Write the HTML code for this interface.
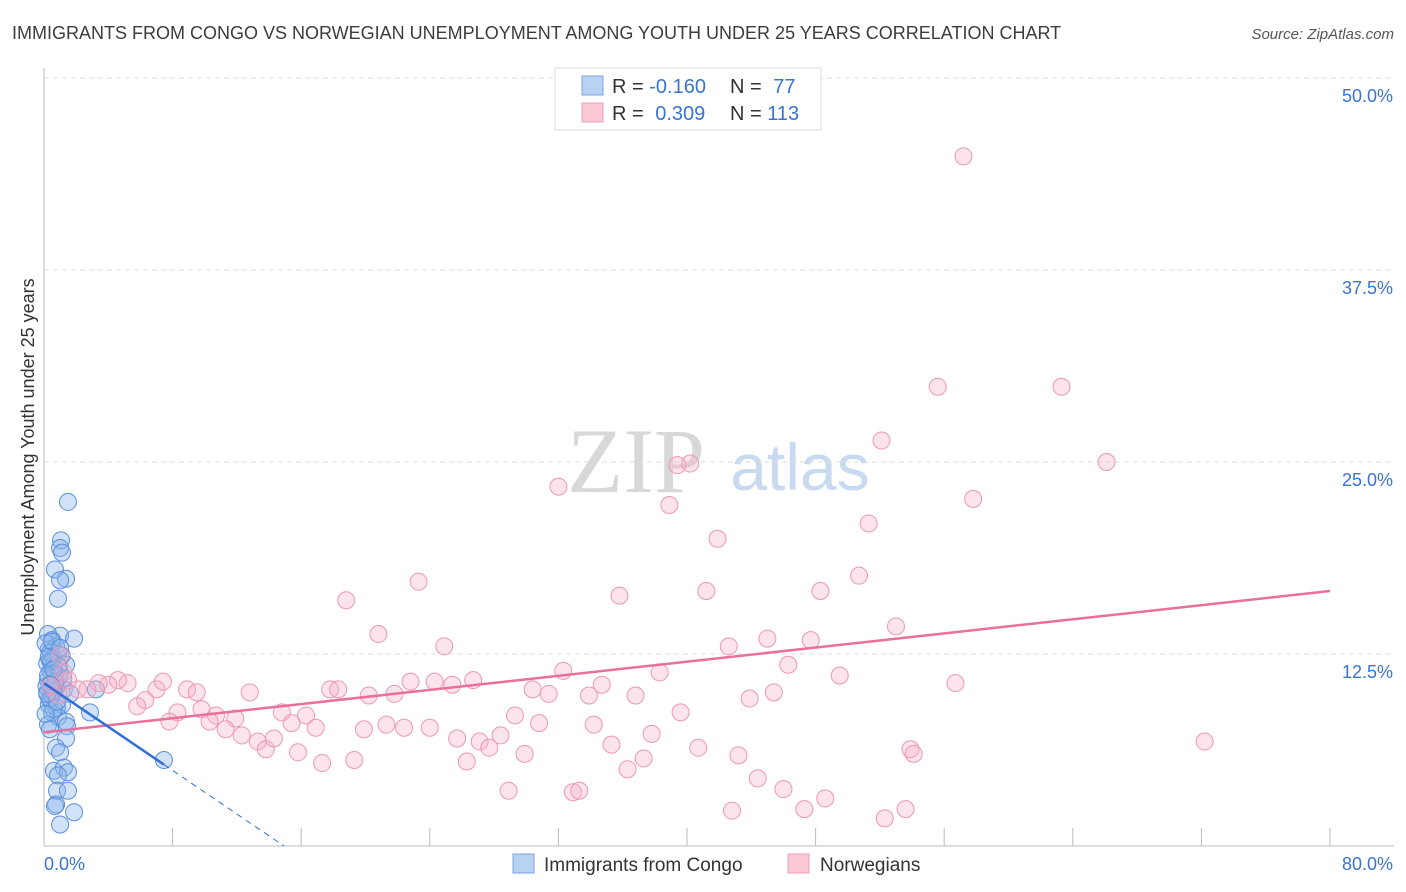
<!DOCTYPE html>
<html><head><meta charset="utf-8">
<style>
body{margin:0;background:#fff;font-family:"Liberation Sans",sans-serif;}
svg{display:block}
</style></head>
<body>
<svg id="chart" width="1406" height="892" xmlns="http://www.w3.org/2000/svg">
<text x="12" y="39" font-size="18" fill="#3c3c3c">IMMIGRANTS FROM CONGO VS NORWEGIAN UNEMPLOYMENT AMONG YOUTH UNDER 25 YEARS CORRELATION CHART</text>
<text x="1394" y="39" font-size="15" fill="#555" text-anchor="end" font-style="italic">Source: ZipAtlas.com</text>
<text x="636" y="492" font-size="92" fill="#d8d8d8" text-anchor="middle" font-family="Liberation Serif,serif">ZIP</text>
<text x="800" y="490" font-size="66" fill="#c8daf0" text-anchor="middle">atlas</text>
<g id="grid"></g>
<g id="axes"></g>
<g id="blue"></g>
<g id="pink"></g>
<g id="lines"></g>
<text transform="translate(34,457) rotate(-90)" font-size="18" fill="#333" text-anchor="middle">Unemployment Among Youth under 25 years</text>
<g>
<rect x="555" y="68" width="266" height="62" fill="#fff" stroke="#ddd"/>
<rect x="582" y="76" width="21" height="19" fill="#b8d2f4" stroke="#7aa6e0"/>
<rect x="582" y="103" width="21" height="19" fill="#fbc8d6" stroke="#eea0b8"/>
<text x="612" y="93" font-size="20" fill="#333">R = <tspan fill="#3a74cf">-0.160</tspan></text>
<text x="730" y="93" font-size="20" fill="#333">N = <tspan fill="#3a74cf" dx="6">77</tspan></text>
<text x="612" y="120" font-size="20" fill="#333">R = <tspan fill="#3a74cf" dx="6">0.309</tspan></text>
<text x="730" y="120" font-size="20" fill="#333">N = <tspan fill="#3a74cf">113</tspan></text>
</g>
<g>
<rect x="513" y="854" width="21" height="19" fill="#b8d2f4" stroke="#7aa6e0"/>
<text x="544" y="871" font-size="19" fill="#333">Immigrants from Congo</text>
<rect x="788" y="854" width="21" height="19" fill="#fbc8d6" stroke="#eea0b8"/>
<text x="820" y="871" font-size="19" fill="#333">Norwegians</text>
</g>
</svg>
<script>
const xTicks=[0,8,16,24,32,40,48,56,64,72,80];
const yTicks=[12.5,25,37.5,50];
const yTickLabels=["12.5%","25.0%","37.5%","50.0%"];
const xEdgeLabels=["0.0%","80.0%"];
const blueX=[1.49,1.06,1.0,1.12,0.68,1.37,1.0,0.87,1.0,1.87,0.25,0.5,0.75,0.87,1.37,0.37,0.56,1.0,0.25,0.75,1.24,1.62,3.23,0.37,1.12,2.86,0.5,0.87,1.37,0.25,0.37,1.43,1.37,0.75,1.0,0.62,1.24,1.49,0.87,0.81,1.49,0.75,0.68,1.87,1.0,7.46,0.3,0.6,0.9,0.2,0.5,0.8,0.4,0.7,1.1,0.3,0.6,0.2,0.1,0.4,0.9,0.15,0.55,0.35,0.65,1.2,0.45,0.25,0.8,0.1,0.5,0.3,0.7,0.2,0.6,1.0,0.4];
const blueY=[22.4,19.9,19.4,19.1,18.0,17.4,17.3,16.1,13.7,13.5,13.8,13.4,13.0,12.5,11.8,12.1,11.6,11.3,10.8,10.3,10.2,9.9,10.2,9.5,9.2,8.7,8.7,8.4,8.1,7.9,7.6,7.8,7.0,6.4,6.1,4.9,5.1,4.8,4.6,3.6,3.6,2.7,2.6,2.2,1.4,5.6,12.8,12.2,11.0,10.0,9.8,9.0,11.4,10.6,12.4,9.2,8.9,11.9,13.2,12.6,11.7,10.4,10.1,9.6,11.2,10.9,12.0,11.1,9.4,8.6,13.3,12.3,10.7,9.9,11.5,12.9,10.5];
const pinkX=[57.2,55.6,63.3,52.1,66.1,39.4,40.2,32.0,38.9,57.8,51.3,41.9,50.7,23.3,41.2,35.8,48.3,18.8,53.0,20.8,45.0,47.7,42.6,24.9,32.3,46.3,38.3,49.5,56.7,26.7,34.7,24.3,22.8,25.4,30.4,31.4,33.9,36.8,45.4,43.9,17.8,18.3,20.2,21.8,12.8,8.9,9.5,7.0,7.4,5.2,4.6,4.0,3.4,2.7,2.1,1.5,6.3,5.8,8.3,9.8,10.7,11.9,14.8,16.3,15.4,16.9,10.3,7.8,11.3,12.3,13.3,13.8,14.3,15.8,17.3,19.3,19.9,21.3,22.4,24.0,25.7,26.3,27.1,27.7,28.4,29.3,29.9,30.8,28.9,32.9,33.3,34.2,35.3,36.3,37.3,37.8,39.6,40.7,43.2,44.4,46.0,47.3,48.6,52.3,53.6,53.9,54.1,42.8,72.2,1.0,1.2,0.9,0.4];
const pinkY=[44.9,29.9,29.9,26.4,25.0,24.8,24.9,23.4,22.2,22.6,21.0,20.0,17.6,17.2,16.6,16.3,16.6,16.0,14.3,13.8,13.5,13.4,13.0,13.0,11.4,11.8,11.3,11.1,10.6,10.8,10.5,10.7,10.7,10.5,10.2,9.9,9.8,9.8,10.0,9.6,10.2,10.2,9.8,9.9,10.0,10.2,10.0,10.2,10.7,10.6,10.8,10.5,10.6,10.2,10.2,10.8,9.5,9.1,8.7,8.9,8.5,8.3,8.7,8.5,8.0,7.7,8.1,8.1,7.6,7.2,6.8,6.3,7.0,6.1,5.4,5.6,7.6,7.9,7.7,7.7,7.0,5.5,6.8,6.4,7.2,8.5,6.0,8.0,3.6,3.5,3.6,7.9,6.6,5.0,5.7,7.3,8.7,6.4,5.9,4.4,3.7,2.4,3.1,1.8,2.4,6.3,6.0,2.3,6.8,12.4,11.3,9.8,10.4];
const blueTrend=[10.6,-0.71];
const pinkTrend=[7.4,0.115];
const blueTrendEnd=7.46;

const NS="http://www.w3.org/2000/svg";
const X=v=>44+v*(1286/80);
const Y=v=>846-v*15.36;
function mk(tag,attrs,parent){const e=document.createElementNS(NS,tag);for(const k in attrs)e.setAttribute(k,attrs[k]);parent.appendChild(e);return e;}
const grid=document.getElementById('grid'),axes=document.getElementById('axes');
yTicks.forEach((t,i)=>{
  const l=mk('line',{x1:44,x2:1394,y1:Y(t),y2:Y(t),stroke:'#ddd','stroke-dasharray':'5,4'},grid);
  
  
  const tx=mk('text',{x:1393,y:Y(t)+24,'font-size':18,fill:'#3a74cf','text-anchor':'end'},axes);
  tx.textContent=yTickLabels[i];
  
  
});
const yl=mk('line',{x1:44,x2:44,y1:68,y2:846,stroke:'#bbb'},axes);


const xl=mk('line',{x1:44,x2:1394,y1:846,y2:846,stroke:'#bbb'},axes);


xTicks.forEach(t=>{
  const tk=mk('line',{x1:X(t),x2:X(t),y1:828,y2:846,stroke:'#bbb'},axes);
  
  
});
const xa=mk('text',{x:44,y:870,'font-size':18,fill:'#3a74cf'},axes);xa.textContent=xEdgeLabels[0];


const xb=mk('text',{x:1393,y:870,'font-size':18,fill:'#3a74cf','text-anchor':'end'},axes);xb.textContent=xEdgeLabels[1];


const bg=document.getElementById('blue'),pg=document.getElementById('pink');
blueX.forEach((x,i)=>{
  const c=mk('circle',{cx:X(x),cy:Y(blueY[i]),r:8.5,fill:'rgba(140,182,236,0.4)',stroke:'#5b8fd9','stroke-width':1},bg);
  
  
});
pinkX.forEach((x,i)=>{
  const c=mk('circle',{cx:X(x),cy:Y(pinkY[i]),r:8.5,fill:'rgba(247,176,200,0.35)',stroke:'#ec98b4','stroke-width':1},pg);
  
  
});
const lg=document.getElementById('lines');
const pl=mk('line',{x1:X(0),y1:Y(pinkTrend[0]),x2:X(80),y2:Y(pinkTrend[0]+pinkTrend[1]*80),stroke:'#e8709a','stroke-width':2.5},lg);


const bl=mk('line',{x1:X(0),y1:Y(blueTrend[0]),x2:X(blueTrendEnd),y2:Y(blueTrend[0]+blueTrend[1]*blueTrendEnd),stroke:'#2f6fd6','stroke-width':2.5},lg);


const zeroX=-blueTrend[0]/blueTrend[1];
const bd=mk('line',{x1:X(blueTrendEnd),y1:Y(blueTrend[0]+blueTrend[1]*blueTrendEnd),x2:X(zeroX),y2:Y(0),stroke:'#2f6fd6','stroke-width':1,'stroke-dasharray':'6,5'},lg);


</script>
</body></html>
